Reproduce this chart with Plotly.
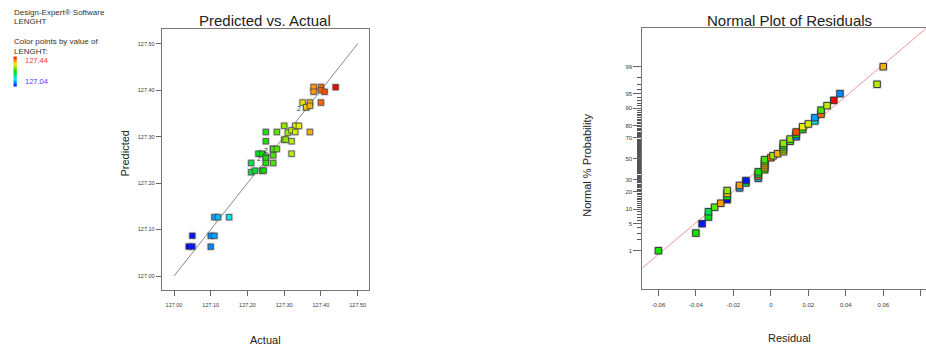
import numpy as np
import plotly.graph_objects as go
from statistics import NormalDist

# ---- LENGHT: actual vs. model-predicted value for each run ----
actual = np.array([
    127.25, 127.25, 127.05, 127.23, 127.21, 127.28, 127.38, 127.04, 127.24, 127.35,
    127.30, 127.11, 127.38, 127.21, 127.05, 127.12, 127.40, 127.22, 127.25, 127.25,
    127.36, 127.36, 127.37, 127.27, 127.27, 127.40, 127.31, 127.37, 127.33, 127.32,
    127.28, 127.25, 127.30, 127.27, 127.304, 127.10, 127.24, 127.41, 127.244, 127.34,
    127.33, 127.15, 127.11, 127.40, 127.27, 127.32, 127.44, 127.10, 127.32, 127.37,
])
predicted = np.array([
    127.3100, 127.2900, 127.0867, 127.2633, 127.2433, 127.3100, 127.4067, 127.0633, 127.2633, 127.3733,
    127.3233, 127.1267, 127.3967, 127.2233, 127.0633, 127.1267, 127.4067, 127.2267, 127.2567, 127.2533,
    127.3633, 127.3633, 127.3733, 127.2733, 127.2733, 127.4000, 127.3088, 127.3664, 127.3233, 127.3133,
    127.2733, 127.2433, 127.2933, 127.2597, 127.2937, 127.0865, 127.2265, 127.3965, 127.2270, 127.3230,
    127.3100, 127.1265, 127.0865, 127.3732, 127.2432, 127.2900, 127.4064, 127.0631, 127.2633, 127.3100,
])

color_min, color_max = 127.04, 127.44
color_scale = [
    [0.00, "#0000ff"], [0.25, "#00e5ff"], [0.50, "#00e000"],
    [0.75, "#e8f000"], [0.85, "#ff9900"], [1.00, "#ff0000"],
]

actual_ticks = [127.00, 127.10, 127.20, 127.30, 127.40, 127.50]
residual_ticks = [-0.06, -0.04, -0.02, 0.0, 0.02, 0.04, 0.06, 0.08]
residual_tick_text = ["-0.06", "-0.04", "-0.02", "0", "0.02", "0.04", "0.06", "0.08"]
prob_ticks = [1, 5, 10, 20, 30, 50, 70, 80, 90, 95, 99]

# normal reference line (location and spread of the residuals)
line_mean, line_sd = 0.0005, 0.025

FONT = "Liberation Sans, Arial, sans-serif"
W, H = 926, 348


def px(x):
    return x / W


def py(y):
    return 1 - y / H


# ---- normal probability positions of the residuals ----
nd = NormalDist()
residual = np.round(actual - predicted, 4)
order = np.argsort(residual, kind="stable")
n = len(residual)
res_sorted = residual[order]
col_sorted = actual[order]
z_sorted = np.array([nd.inv_cdf((i + 0.5) / n) for i in range(n)])

fig = go.Figure()

# Predicted vs. Actual
fig.add_trace(go.Scatter(x=[actual_ticks[0], actual_ticks[-1]], y=[actual_ticks[0], actual_ticks[-1]],
                         mode="lines", line=dict(color="#8a8a8a", width=1),
                         hoverinfo="skip", xaxis="x", yaxis="y"))
fig.add_trace(go.Scatter(x=actual, y=predicted, mode="markers",
                         marker=dict(symbol="square", size=8, color="rgba(130,130,130,0.3)"),
                         hoverinfo="skip", xaxis="x", yaxis="y"))
fig.add_trace(go.Scatter(x=actual, y=predicted, mode="markers",
                         marker=dict(symbol="square", size=5.5, color=actual, colorscale=color_scale,
                                     cmin=color_min, cmax=color_max,
                                     line=dict(color="#4a4a4a", width=0.8)),
                         xaxis="x", yaxis="y"))

# Normal plot of residuals
x_ref = np.array([-0.0686, 0.0828])
fig.add_trace(go.Scatter(x=x_ref, y=(x_ref - line_mean) / line_sd, mode="lines",
                         line=dict(color="rgb(244,150,150)", width=1),
                         hoverinfo="skip", xaxis="x2", yaxis="y2"))
fig.add_trace(go.Scatter(x=res_sorted, y=z_sorted, mode="markers",
                         marker=dict(symbol="square", size=9, color="rgba(130,130,130,0.3)"),
                         hoverinfo="skip", xaxis="x2", yaxis="y2"))
fig.add_trace(go.Scatter(x=res_sorted, y=z_sorted, mode="markers",
                         marker=dict(symbol="square", size=6.5, color=col_sorted, colorscale=color_scale,
                                     cmin=color_min, cmax=color_max,
                                     line=dict(color="#3a3a3a", width=1)),
                         xaxis="x2", yaxis="y2"))

# colour key bar
bar_vals = np.linspace(color_min, color_max, 60)
fig.add_trace(go.Heatmap(z=[[v] for v in bar_vals], y=bar_vals, x=[0],
                         colorscale=color_scale, zmin=color_min, zmax=color_max,
                         showscale=False, hoverinfo="skip", xaxis="x3", yaxis="y3"))

tick_font = dict(family=FONT, size=5.5, color="#3a3a3a")
axis_common = dict(showgrid=False, zeroline=False, showline=True, linecolor="#777", linewidth=1,
                   ticks="outside", tickcolor="#666", tickwidth=1)

layout = dict(
    width=W, height=H, margin=dict(l=0, r=0, t=0, b=0),
    paper_bgcolor="white", plot_bgcolor="white", showlegend=False,
    xaxis=dict(domain=[px(161.7), px(369.3)], range=[126.9665, 127.5316], anchor="y",
               tickvals=actual_ticks, ticktext=[f"{v:.2f}" for v in actual_ticks],
               ticklen=5, mirror=True, tickfont=tick_font, ticklabelstandoff=4, **axis_common),
    yaxis=dict(domain=[py(290), py(29.3)], range=[126.9699, 127.531], anchor="x",
               tickvals=actual_ticks, ticktext=[f"{v:.2f}" for v in actual_ticks],
               ticklen=5, mirror=True, tickfont=tick_font, **axis_common),
    xaxis2=dict(domain=[px(642.3), 1.0], range=[-0.0686, 0.0828], anchor="y2",
                tickvals=residual_ticks, ticktext=residual_tick_text,
                ticklen=6, mirror=True, tickfont=dict(family=FONT, size=6, color="#3a3a3a"),
                ticklabelstandoff=3, **axis_common),
    yaxis2=dict(domain=[py(289.3), py(28.3)], range=[-3.302, 3.297], anchor="x2",
                tickvals=[nd.inv_cdf(p / 100) for p in prob_ticks], ticktext=[str(p) for p in prob_ticks],
                ticklen=8, mirror=False, tickfont=dict(family=FONT, size=6, color="#3a3a3a"),
                minor=dict(tickvals=[nd.inv_cdf(p / 100) for p in range(2, 99) if p not in prob_ticks],
                           ticks="outside", ticklen=4, tickcolor="#555", tickwidth=0.8),
                **axis_common),
    xaxis3=dict(domain=[px(13.3), px(16.8)], anchor="y3", visible=False),
    yaxis3=dict(domain=[py(86.5), py(56.5)], anchor="x3", visible=False,
                range=[color_min, color_max]),
)

ann = []


def text(s, x, y, size, color="#333", xanchor="center", angle=0):
    ann.append(dict(text=s, x=px(x), y=py(y), xref="paper", yref="paper", showarrow=False,
                    xanchor=xanchor, yanchor="middle", textangle=angle,
                    font=dict(family=FONT, size=size, color=color)))


text("Predicted vs. Actual", 265, 20, 15, "#222")
text("Normal Plot of Residuals", 789, 20, 15, "#222")
text("Actual", 265, 340, 11, "#222")
text("Predicted", 124.5, 153, 11, "#222", angle=-90)
text("Residual", 789, 338, 11, "#222")
text("Normal % Probability", 586.7, 165, 11, "#222", angle=-90)

text("Design-Expert® Software", 12, 12.7, 8, xanchor="left")
text("LENGHT", 12, 22, 8, xanchor="left")
text("Color points by value of", 12, 41.5, 8, xanchor="left")
text("LENGHT:", 12, 51, 8, xanchor="left")
text(f"{color_max:.2f}", 22.5, 60.5, 7.5, "#ff3030", xanchor="left")
text(f"{color_min:.2f}", 22.5, 81.5, 7.5, "#4040ff", xanchor="left")

# runs that coincide on the predicted-vs-actual plot get a count label
used = set()
for i in range(n):
    if i in used:
        continue
    group = [j for j in range(n) if j not in used and actual[j] == actual[i]
             and abs(predicted[j] - predicted[i]) < 0.004]
    if len(group) > 1:
        used.update(group)
        ann.append(dict(text=str(len(group)), x=actual[i], y=float(np.mean(predicted[group])),
                        xref="x", yref="y", showarrow=False, xshift=-7, yshift=-1,
                        font=dict(family=FONT, size=7, color="#333")))

layout["annotations"] = ann
fig.update_layout(**layout)
fig.write_html("out.html")
